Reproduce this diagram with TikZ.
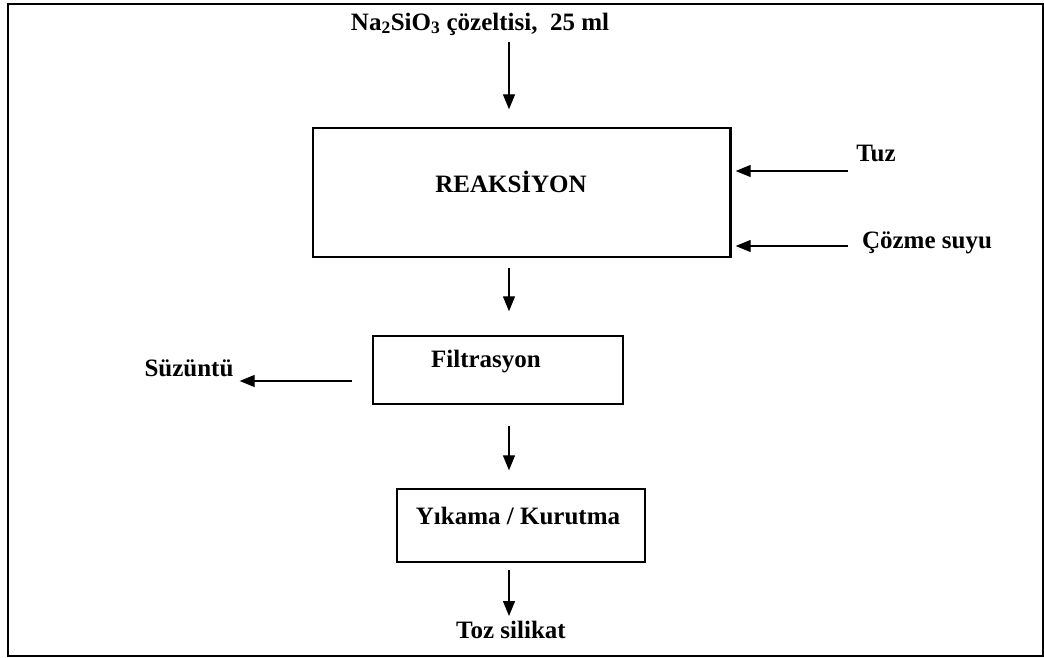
\documentclass[tikz,border=0pt]{standalone}
\usepackage{fontspec}
\setmainfont{Liberation Serif}
\usetikzlibrary{arrows.meta, positioning}

\tikzset{
  stagebox/.style={draw, line width=1.4pt, inner sep=0pt},
  lbl/.style={font=\fontsize{25}{28}\selectfont\bfseries, inner sep=0pt},
  flow/.style={line width=1.3pt, -{Triangle[length=15pt,width=12pt]}}
}

\begin{document}
\begin{tikzpicture}[x=1pt, y=-1pt]
\useasboundingbox (0,0) rectangle (1044,658);
% Frame
\draw[line width=1.4pt] (8,4) rectangle (1043,656);

% Stages
\node[stagebox, minimum width=417pt, minimum height=129pt] (reac) at (521.5,192.5) {};
\draw[line width=2.6pt] (reac.north east) -- (reac.south east);
\node[lbl] (reactxt) at (511,182) {REAKSİYON};

\node[stagebox, minimum width=250pt, minimum height=68pt] (filt) at (498,370) {};
\node[lbl] (filttxt) at (486,362) {Filtrasyon};

\node[stagebox, minimum width=248pt, minimum height=73pt] (yik) at (521,525.5) {};
\node[lbl] (yiktxt) at (518,516) {Yıkama / Kurutma};

% Inputs and outputs
\node[lbl] (sol) at (480,24) {Na\textsubscript{2}SiO\textsubscript{3} çözeltisi,\ \ 25 ml};
\node[lbl] (tuz) at (876,153) {Tuz};
\node[lbl] (su) at (927,243) {Çözme suyu};
\node[lbl] (suz) at (189,368) {Süzüntü};
\node[lbl] (toz) at (511,630) {Toz silikat};

% Arrow start points
\coordinate (in1) at (509,42);
\coordinate (in2) at (509,268);
\coordinate (in3) at (509,426);
\coordinate (in4) at (509,570);
\coordinate (tuzs) at (848,171);
\coordinate (sus) at (848,246);
\coordinate (suzs) at (352,381);

% Arrows
\draw[flow, shorten >=18pt] (in1) -- (in1 |- reac.north);
\draw[flow, shorten >=24pt] (in2) -- (in2 |- filt.north);
\draw[flow, shorten >=18pt] (in3) -- (in3 |- yik.north);
\draw[flow, shorten >=5pt] (in4) -- (in4 |- toz.north);
\draw[flow, shorten >=5pt] (tuzs) -- (tuzs -| reac.east);
\draw[flow, shorten >=5pt] (sus) -- (sus -| reac.east);
\draw[flow, shorten >=6pt] (suzs) -- (suzs -| suz.east);

\end{tikzpicture}
\end{document}
